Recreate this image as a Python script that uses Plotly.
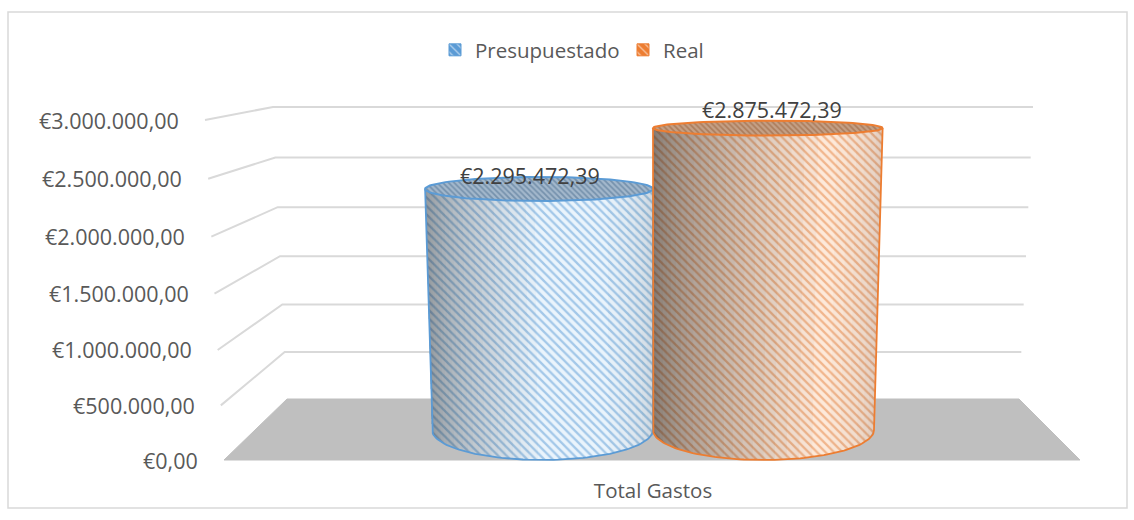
import numpy as np
import plotly.graph_objects as go

CATEGORY = "Total Gastos"
SERIES = ["Presupuestado", "Real"]
VALUES = [2295472.39, 2875472.39]
VALUE_LABELS = ["€2.295.472,39", "€2.875.472,39"]
TICK_VALUES = [0, 500000, 1000000, 1500000, 2000000, 2500000, 3000000]
TICK_LABELS = ["€0,00", "€500.000,00", "€1.000.000,00", "€1.500.000,00",
               "€2.000.000,00", "€2.500.000,00", "€3.000.000,00"]

W, H, MB = 1134, 520, 50
FONT = "Open Sans"
PX_PER_EUR = 1.05e-4     # value scale on the plane of the cylinder axes
Y0 = 430                 # pixel row of value 0 on that plane


def to_y(py):
    """Pixel row -> value-axis coordinate."""
    return (Y0 - py) / PX_PER_EUR


def persist(t, k=0.045):
    return t / (1 + k * (1 - t))


def wall(v):
    """Perspective view of the chart walls for a value: left-front, left-back, right-back."""
    t = v / TICK_VALUES[-1]
    s = persist(t)
    front = 460 - 340 * s
    back = 399 - 292 * s
    return (224 - 19 * t, to_y(front)), (287 - 14 * t, to_y(back)), (1019 + 14 * t, to_y(back))


fig = go.Figure()

# Bars carry the values and the legend swatches; the cylinder drawn over them gives the look.
STYLES = [
    dict(cx=542.5, dir=-1, line="#5B9BD5", bg="#EAF4FC", fg="#5B9BD5", rim_bg="#A3B8CC", rim_fg="#476A8C",
         left=(0.48, 24, 0.024), right=(0.2, 8, 0.02), lab=(-9, 13)),
    dict(cx=763.5, dir=1, line="#ED7D31", bg="#FDE9DA", fg="#E5823F", rim_bg="#C4A086", rim_fg="#945A32",
         left=(0.72, 24, 0.03), right=(0.2, 8, 0.02), lab=(4, 19)),
]
for name, val, st in zip(SERIES, VALUES, STYLES):
    fig.add_bar(x=[st["cx"]], y=[val], width=200, name=name, hoverinfo="skip",
                marker=dict(color=st["line"], line=dict(color=st["line"], width=1),
                            pattern=dict(shape="\\", fgcolor="#FFFFFF", bgcolor=st["line"], size=7, solidity=0.25)))

# Walls: gridlines and floor
gx, gy = [], []
for v in TICK_VALUES[1:]:
    pts = wall(v)
    gx += [p[0] for p in pts] + [None]
    gy += [p[1] for p in pts] + [None]
fig.add_scatter(x=gx, y=gy, mode="lines", line=dict(color="#D9D9D9", width=2),
                showlegend=False, hoverinfo="skip")
lf, lb, rb = wall(TICK_VALUES[0])
fig.add_scatter(x=[lf[0], lb[0], rb[0], rb[0] + 61, lf[0]], y=[lf[1], lb[1], rb[1], lf[1], lf[1]],
                mode="lines", fill="toself", fillcolor="#BFBFBF", line=dict(color="#BFBFBF", width=1),
                showlegend=False, hoverinfo="skip")


def section(val, st):
    hw = 110.5 + 1.5e-6 * val
    cx = st["cx"] + st["dir"] * 1.5e-6 * val
    ry = 30 * max(1 - val / 3.826e6, 0.2)
    return cx, hw, ry


def poly(ua, ub, val, st):
    """Side-surface patch between two across-width fractions."""
    cx0, hw0, ry0 = section(0, st)
    cx1, hw1, _ = section(val, st)
    th = np.arccos(1 - 2 * np.linspace(ua, ub, 40))
    xt = cx1 - hw1 * np.cos(th)
    xb = cx0 - hw0 * np.cos(th)
    yb = -ry0 * np.sin(th) / PX_PER_EUR
    x = np.concatenate([xt[[0, -1]], xb[::-1], xt[[0]]])
    y = np.concatenate([[val, val], yb[::-1], [val]])
    return x, y


for val, st in zip(VALUES, STYLES):
    x, y = poly(0, 1, val, st)
    fig.add_scatter(x=x, y=y, mode="lines", fill="toself", line=dict(width=0), fillcolor=st["bg"],
                    fillpattern=dict(shape="\\", fgcolor=st["fg"], bgcolor=st["bg"], size=6, solidity=0.38),
                    showlegend=False, hoverinfo="skip")
    umax, n, a = st["left"]
    for i in range(n):
        x, y = poly(0, umax * ((i + 1) / n) ** 2, val, st)
        fig.add_scatter(x=x, y=y, mode="none", fill="toself", fillcolor=f"rgba(40,40,40,{a})",
                        showlegend=False, hoverinfo="skip")
    umax, n, a = st["right"]
    for i in range(n):
        x, y = poly(1 - umax * ((i + 1) / n) ** 2, 1, val, st)
        fig.add_scatter(x=x, y=y, mode="none", fill="toself", fillcolor=f"rgba(40,40,40,{a})",
                        showlegend=False, hoverinfo="skip")
    # outline of the side
    cx0, hw0, ry0 = section(0, st)
    cx1, hw1, ry1 = section(val, st)
    th = np.linspace(0, np.pi, 80)
    ox = np.concatenate([[cx1 - hw1], cx0 - hw0 * np.cos(th), [cx1 + hw1]])
    oy = np.concatenate([[val], -ry0 * np.sin(th) / PX_PER_EUR, [val]])
    fig.add_scatter(x=ox, y=oy, mode="lines", line=dict(color=st["line"], width=1.8),
                    showlegend=False, hoverinfo="skip")
    # top ellipse
    th = np.linspace(0, 2 * np.pi, 120)
    fig.add_scatter(x=cx1 + hw1 * np.cos(th), y=val + ry1 * np.sin(th) / PX_PER_EUR, mode="lines",
                    fill="toself", fillcolor=st["rim_bg"], line=dict(color=st["line"], width=2),
                    fillpattern=dict(shape="\\", fgcolor=st["rim_fg"], bgcolor=st["rim_bg"], size=4, solidity=0.45),
                    showlegend=False, hoverinfo="skip")

annotations = []
for v, lab in zip(TICK_VALUES, TICK_LABELS):
    p = wall(v)[0]
    annotations.append(dict(x=p[0] - 24, y=p[1], text=lab, showarrow=False, xanchor="right", yanchor="middle",
                            font=dict(family=FONT, size=21.5, color="#595959")))
for val, lab, st in zip(VALUES, VALUE_LABELS, STYLES):
    cx1 = section(val, st)[0]
    annotations.append(dict(x=cx1 + st["lab"][0], y=val, yshift=st["lab"][1], text=lab, showarrow=False,
                            xanchor="center", yanchor="middle",
                            font=dict(family=FONT, size=21.5, color="#404040")))

fig.update_layout(
    width=W, height=H, margin=dict(l=0, r=0, t=0, b=MB, pad=0),
    paper_bgcolor="white", plot_bgcolor="rgba(0,0,0,0)",
    barmode="overlay",
    showlegend=True,
    legend=dict(orientation="h", x=435 / W, xanchor="left", y=1 - 50 / (H - MB), yanchor="middle",
                entrywidth=143, entrywidthmode="pixels", bgcolor="rgba(0,0,0,0)",
                font=dict(family=FONT, size=20.5, color="#595959")),
    xaxis=dict(range=[0, W], showgrid=False, zeroline=False, showline=False, ticks="",
               tickmode="array", tickvals=[(STYLES[0]["cx"] + STYLES[1]["cx"]) / 2], ticktext=[CATEGORY],
               tickfont=dict(family=FONT, size=20.5, color="#595959"), ticklabelstandoff=6),
    yaxis=dict(range=[to_y(H - MB), to_y(0)], showgrid=False, zeroline=False, showline=False,
               showticklabels=False, ticks=""),
    annotations=annotations,
    shapes=[dict(type="rect", xref="x", yref="paper", x0=8, x1=1127, y0=-(508 - (H - MB)) / (H - MB),
                 y1=1 - 12 / (H - MB), line=dict(color="#D9D9D9", width=1.5), fillcolor="rgba(0,0,0,0)",
                 layer="below")],
)
fig.write_html("out.html", config=dict(displayModeBar=False),
               post_script="document.body.style.margin='0';document.body.style.overflow='hidden';")
